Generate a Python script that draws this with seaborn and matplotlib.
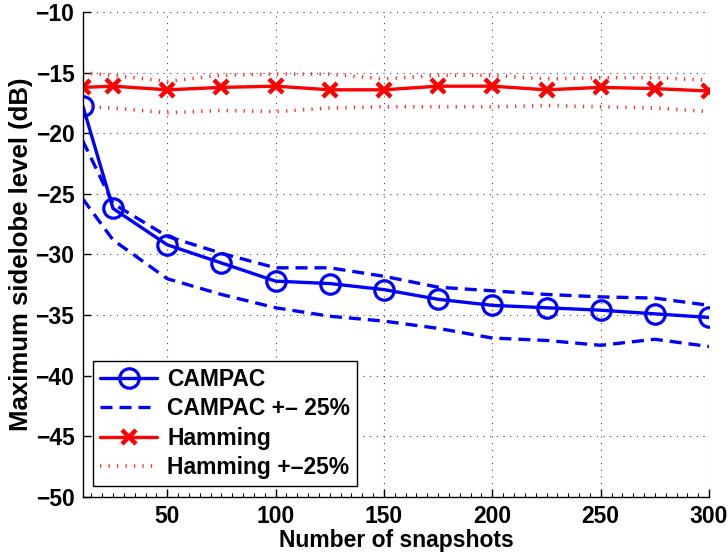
import matplotlib
matplotlib.use("Agg")
import matplotlib.pyplot as plt
import seaborn as sns
from matplotlib.ticker import MultipleLocator

# ---- data ----
snapshots = [11, 25, 50, 75, 100, 125, 150, 175, 200, 225, 250, 275, 300]
campac = [-17.7, -26.2, -29.2, -30.7, -32.2, -32.4, -32.9, -33.7, -34.2, -34.4, -34.6, -34.9, -35.2]
campac_hi = [-20.6, -25.8, -28.5, -29.9, -31.1, -31.1, -31.8, -32.7, -33.0, -33.3, -33.5, -33.6, -34.2]
campac_lo = [-25.4, -28.8, -32.0, -33.3, -34.4, -35.1, -35.5, -36.1, -36.9, -37.1, -37.5, -37.0, -37.6]
hamming = [-16.2, -16.1, -16.4, -16.2, -16.1, -16.4, -16.4, -16.1, -16.1, -16.4, -16.2, -16.3, -16.5]
hamming_hi = [-15.0, -15.2, -15.7, -15.2, -15.1, -15.1, -15.5, -15.2, -15.2, -15.5, -15.4, -15.4, -15.6]
hamming_lo = [-17.8, -17.9, -18.3, -18.1, -18.2, -17.9, -17.8, -17.8, -17.8, -17.7, -17.8, -17.9, -18.2]

x_ticks = [50, 100, 150, 200, 250, 300]
y_ticks = [-50, -45, -40, -35, -30, -25, -20, -15, -10]
labels = ["CAMPAC", "CAMPAC +\u2013 25%", "Hamming", "Hamming +\u201325%"]

sns.set_style("white")
plt.rcParams["font.family"] = ["Liberation Sans", "DejaVu Sans"]
plt.rcParams["font.weight"] = "bold"
plt.rcParams["font.size"] = 16.5
plt.rcParams["text.color"] = "black"
plt.rcParams["axes.labelcolor"] = "black"
plt.rcParams["xtick.color"] = "black"
plt.rcParams["ytick.color"] = "black"

fig = plt.figure(figsize=(7.28, 5.57), dpi=100)
ax = fig.add_axes([0.1136, 0.1083, 0.8604, 0.8696])

blue = "#0000ff"
red = "#ff0000"
dash = (0, (3.6, 2.1))
dot = (0, (0.35, 2.0))

sns.lineplot(x=snapshots, y=campac, ax=ax, color=blue, linewidth=2.4,
             marker="o", markersize=14, markerfacecolor="none",
             markeredgecolor=blue, markeredgewidth=2.3, label=labels[0])
sns.lineplot(x=snapshots, y=campac_hi, ax=ax, color=blue, linewidth=2.4,
             linestyle=dash, label=labels[1])
sns.lineplot(x=snapshots, y=campac_lo, ax=ax, color=blue, linewidth=2.4,
             linestyle=dash, label="_nolegend_")
sns.lineplot(x=snapshots, y=hamming, ax=ax, color=red, linewidth=2.4,
             marker="x", markersize=10, markeredgewidth=3.2,
             markeredgecolor=red, label=labels[2])
sns.lineplot(x=snapshots, y=hamming_hi, ax=ax, color="#ff2a2a", linewidth=2.6,
             linestyle=dot, label=labels[3])
sns.lineplot(x=snapshots, y=hamming_lo, ax=ax, color="#ff2a2a", linewidth=2.6,
             linestyle=dot, label="_nolegend_")

for ln in ax.get_lines():
    ln.set_dash_capstyle("butt")

ax.set_xlim(snapshots[0], snapshots[-1])
ax.set_ylim(-50, -10)
ax.set_xticks(x_ticks)
ax.set_yticks(y_ticks)
ax.xaxis.set_minor_locator(MultipleLocator(5))

ax.grid(True, which="major", color="#444444", linestyle=(0, (1, 5)), linewidth=0.8)
ax.set_axisbelow(True)

for s in ["top", "right"]:
    ax.spines[s].set_visible(False)
for s in ["left", "bottom"]:
    ax.spines[s].set_color("black")
    ax.spines[s].set_linewidth(1.0)

ax.tick_params(axis="both", which="major", direction="in", length=6, width=1,
               labelsize=16.5, colors="black", pad=6, bottom=True, left=True)
ax.tick_params(axis="x", which="minor", direction="in", length=3, width=0.8,
               bottom=True)
for t in ax.get_xticklabels() + ax.get_yticklabels():
    t.set_fontweight("bold")

ax.set_xlabel("Number of snapshots", fontsize=16.5, fontweight="bold", labelpad=1)
ax.set_ylabel("Maximum sidelobe level (dB)", fontsize=18.5, fontweight="bold", labelpad=2)

leg = ax.legend(loc="lower left", frameon=True, fancybox=False, framealpha=1,
                edgecolor="black", handlelength=2.5, handletextpad=0.45,
                labelspacing=0.29, borderpad=0.3, borderaxespad=0.45,
                prop={"size": 16.5, "weight": "bold"})
leg.get_frame().set_linewidth(1.0)
for t in leg.get_texts():
    t.set_color("black")

fig.savefig("out.png", dpi=100)
